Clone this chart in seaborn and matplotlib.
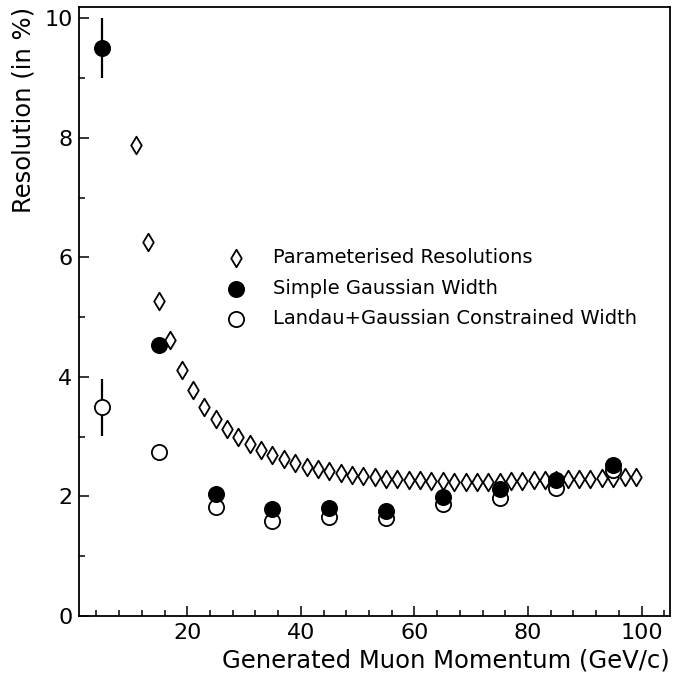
import matplotlib
matplotlib.use("Agg")
import matplotlib.pyplot as plt
import seaborn as sns
import pandas as pd
from matplotlib.ticker import MultipleLocator

# parameterised resolution curve (diamonds)
param_p = list(range(11, 100, 2))
param_res = [7.88, 6.25, 5.27, 4.62, 4.12, 3.78, 3.50, 3.30, 3.13, 2.99,
             2.88, 2.78, 2.69, 2.62, 2.56, 2.50, 2.46, 2.42, 2.39, 2.36,
             2.34, 2.32, 2.30, 2.29, 2.28, 2.27, 2.26, 2.26, 2.25, 2.25,
             2.25, 2.25, 2.25, 2.26, 2.26, 2.27, 2.27, 2.28, 2.29, 2.29,
             2.30, 2.31, 2.31, 2.32, 2.32]

# fitted widths at generated momenta
gen_p = [5, 15, 25, 35, 45, 55, 65, 75, 85, 95]
gauss_res = [9.50, 4.53, 2.04, 1.79, 1.81, 1.76, 1.99, 2.13, 2.27, 2.52]
gauss_err = [0.50, 0, 0, 0, 0, 0, 0, 0, 0, 0]
landau_res = [3.49, 2.74, 1.82, 1.59, 1.66, 1.64, 1.87, 1.98, 2.15, 2.44]
landau_err = [0.48, 0, 0, 0, 0, 0, 0, 0, 0, 0]

labels = ["Parameterised Resolutions", "Simple Gaussian Width",
          "Landau+Gaussian Constrained Width"]

param_df = pd.DataFrame({"p": param_p, "res": param_res})
fit_df = pd.DataFrame({"p": gen_p, "gauss": gauss_res, "gerr": gauss_err,
                       "landau": landau_res, "lerr": landau_err})

sns.set_style("ticks", {"axes.edgecolor": "black", "text.color": "black",
                        "xtick.color": "black", "ytick.color": "black",
                        "axes.labelcolor": "black"})
plt.rcParams["font.family"] = ["DejaVu Sans"]

fig = plt.figure(figsize=(6.73, 6.85), dpi=100)
ax = fig.add_axes([0.118, 0.1007, 0.8775, 0.8891])

# error bars (only the lowest momentum point carries one)
eb = fit_df[fit_df["gerr"] > 0]
ax.errorbar(eb["p"], eb["gauss"], yerr=eb["gerr"], fmt="none", ecolor="black",
            elinewidth=1.6, capsize=0, zorder=1)
eb = fit_df[fit_df["lerr"] > 0]
ax.errorbar(eb["p"], eb["landau"], yerr=eb["lerr"], fmt="none", ecolor="black",
            elinewidth=1.6, capsize=0, zorder=1)

sns.scatterplot(data=param_df, x="p", y="res", marker="d", s=80,
                facecolor="white", edgecolor="black", linewidth=1.3,
                label=labels[0], ax=ax, zorder=2)
sns.scatterplot(data=fit_df, x="p", y="landau", marker="o", s=120,
                facecolor="white", edgecolor="black", linewidth=1.3,
                label=labels[2], ax=ax, zorder=3)
sns.scatterplot(data=fit_df, x="p", y="gauss", marker="o", s=120,
                facecolor="black", edgecolor="black", linewidth=1.3,
                label=labels[1], ax=ax, zorder=4)

ax.set_xlim(1, 105)
ax.set_ylim(0, 10.19)
ax.xaxis.set_major_locator(MultipleLocator(20))
ax.xaxis.set_minor_locator(MultipleLocator(4))
ax.yaxis.set_major_locator(MultipleLocator(2))
ax.yaxis.set_minor_locator(MultipleLocator(1))
ax.set_xticks([20, 40, 60, 80, 100])
ax.tick_params(which="both", direction="in", top=False, right=False,
               labelsize=16, width=1.1, pad=5)
ax.tick_params(which="major", length=7)
ax.tick_params(which="minor", length=4)
for s in ax.spines.values():
    s.set_linewidth(1.3)
    s.set_visible(True)

ax.set_xlabel("Generated Muon Momentum (GeV/c)", fontsize=17.5, loc="right",
              labelpad=4)
ax.set_ylabel("Resolution (in %)", fontsize=17.5, loc="top", labelpad=6)

h, l = ax.get_legend_handles_labels()
order = [l.index(t) for t in labels]
ax.legend([h[i] for i in order], labels, loc="upper left",
          bbox_to_anchor=(0.235, 0.617), frameon=False, fontsize=14,
          handlelength=1.0, handletextpad=1.4, labelspacing=0.6,
          borderaxespad=0)

fig.savefig("out.png", dpi=100)
